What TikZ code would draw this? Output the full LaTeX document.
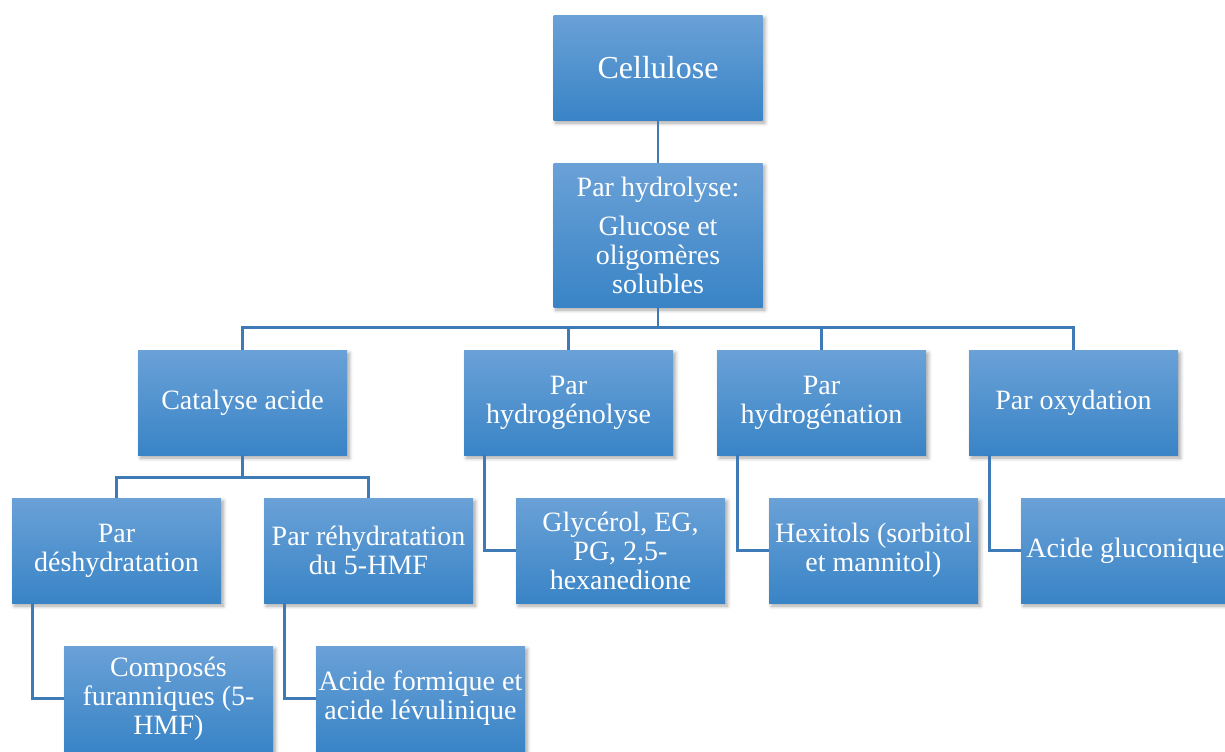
\documentclass[tikz,border=0pt]{standalone}
\usepackage{fontspec}
\setmainfont{Liberation Serif}
\usetikzlibrary{shadows.blur}
\definecolor{boxtop}{RGB}{106,161,215}
\definecolor{boxbot}{RGB}{57,132,198}
\definecolor{linkblue}{RGB}{62,122,182}
\begin{document}
\begin{tikzpicture}[
                x = 0.5pt, y = -0.5pt,
                box/.style = {rectangle, top color=boxtop, bottom color=boxbot, text=white, align=center,
                    inner sep = 0mm, minimum width = 104.5pt, minimum height = 52.5pt,
                    font=\fontsize{14}{14.5}\selectfont,
                    blur shadow={shadow xshift=1.2pt, shadow yshift=-1.5pt, shadow blur steps=6, shadow opacity=35}},
                conn/.style = {draw, linkblue, line width = 1.2pt},
            ]
            \useasboundingbox (0,0) rectangle (1225,751);

            \node (cell) [box, font=\fontsize{16}{17}\selectfont] at (658, 67.5) {Cellulose};
            \node (hydro) [box, minimum height = 72pt] at (658, 235) {Par hydrolyse:\\[5pt]Glucose et\\oligomères\\solubles};

            \node (cata) [box] at (242.5, 402.5) {Catalyse acide};
            \node (hgnl) [box] at (568.5, 402.5) {Par\\hydrogénolyse};
            \node (hgnt) [box] at (821.5, 402.5) {Par\\hydrogénation};
            \node (oxy) [box] at (1073.5, 402.5) {Par oxydation};

            \node (desh) [box] at (116.5, 550.5) {Par\\déshydratation};
            \node (rehy) [box] at (368.5, 550.5) {Par réhydratation\\du 5-HMF};
            \node (glyc) [box] at (620.5, 550.5) {Glycérol, EG,\\PG, 2,5-\\hexanedione};
            \node (hexi) [box] at (873.5, 550.5) {Hexitols (sorbitol\\et mannitol)};
            \node (gluc) [box] at (1125.5, 550.5) {Acide gluconique};

            \node (comp) [box] at (168.5, 698.5) {Composés\\furanniques (5-\\HMF)};
            \node (form) [box] at (420.5, 698.5) {Acide formique et\\acide lévulinique};

            \path[conn] (cell) -- (hydro);

            \path[conn] (hydro.south) -- ++(0,20) -| (cata.north);
            \path[conn] (hydro.south) -- ++(0,20) -| (hgnl.north);
            \path[conn] (hydro.south) -- ++(0,20) -| (hgnt.north);
            \path[conn] (hydro.south) -- ++(0,20) -| (oxy.north);

            \path[conn] (cata.south) -- ++(0,22) -| (desh.north);
            \path[conn] (cata.south) -- ++(0,22) -| (rehy.north);

            \path[conn] ([xshift=10.5pt]hgnl.south west) |- (glyc.west);
            \path[conn] ([xshift=10.5pt]hgnt.south west) |- (hexi.west);
            \path[conn] ([xshift=10.5pt]oxy.south west) |- (gluc.west);
            \path[conn] ([xshift=10.5pt]desh.south west) |- (comp.west);
            \path[conn] ([xshift=10.5pt]rehy.south west) |- (form.west);
        \end{tikzpicture}
\end{document}
